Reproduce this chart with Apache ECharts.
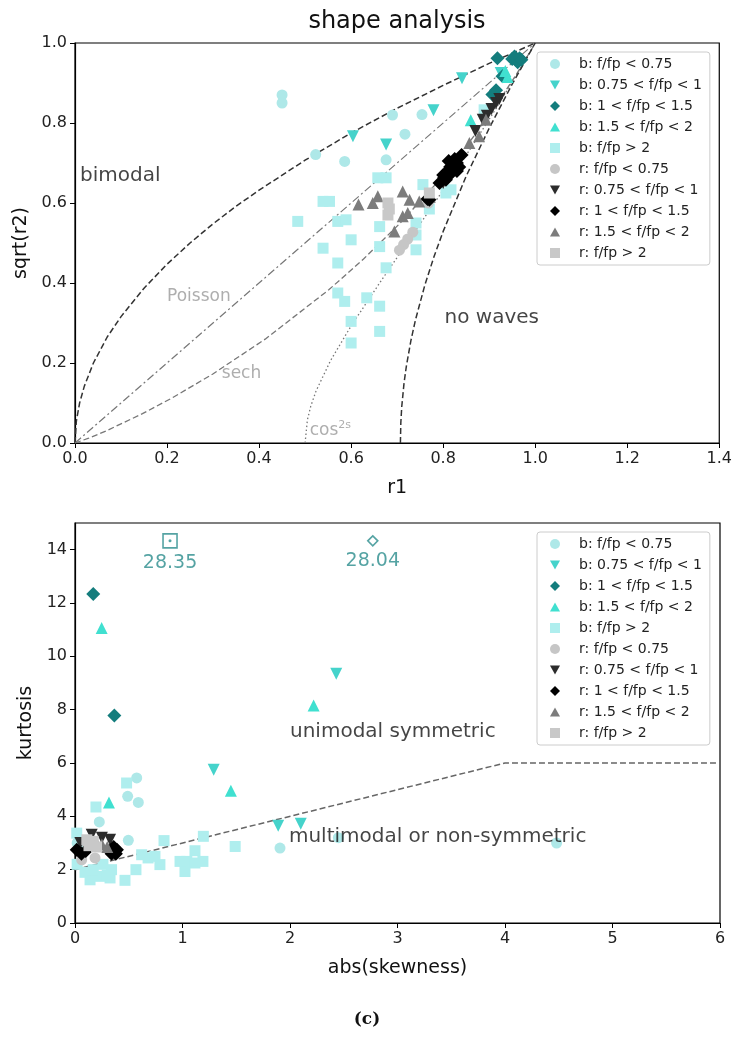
<!DOCTYPE html>
<html>
<head>
<meta charset="utf-8">
<script src="https://cdn.jsdelivr.net/npm/echarts@6/dist/echarts.min.js"></script>
<style>
  html, body { margin: 0; padding: 0; background: #fff; }
  #chart { width: 735px; height: 1048px; }
</style>
</head>
<body>
<div id="chart"></div>
<script>
// ---------- legend / class names ----------
const CLASS_NAMES = [
  'b: f/fp < 0.75', 'b: 0.75 < f/fp < 1', 'b: 1 < f/fp < 1.5', 'b: 1.5 < f/fp < 2', 'b: f/fp > 2',
  'r: f/fp < 0.75', 'r: 0.75 < f/fp < 1', 'r: 1 < f/fp < 1.5', 'r: 1.5 < f/fp < 2', 'r: f/fp > 2'
];

// ---------- axis ticks ----------
const R1_TICKS = [0, 0.2, 0.4, 0.6, 0.8, 1.0, 1.2, 1.4];
const SQRT_R2_TICKS = [0, 0.2, 0.4, 0.6, 0.8, 1.0];
const SKEW_TICKS = [0, 1, 2, 3, 4, 5, 6];
const KURT_TICKS = [0, 2, 4, 6, 8, 10, 12, 14];

// ---------- shape analysis: [r1, sqrt(r2)] ----------
const B_LT075_R = [[0.45,0.87],[0.45,0.85],[0.69,0.82],[0.754,0.821],[0.717,0.772],[0.523,0.721],[0.586,0.704],[0.676,0.708]];
const B_075_1_R = [[0.841,0.912],[0.779,0.832],[0.604,0.767],[0.676,0.746],[0.925,0.925]];
const B_1_15_R = [[0.918,0.962],[0.95,0.96],[0.958,0.958],[0.966,0.962],[0.962,0.952],[0.955,0.966],[0.97,0.958],[0.929,0.917],[0.907,0.871],[0.915,0.882]];
const B_15_2_R = [[0.86,0.807],[0.935,0.93],[0.94,0.915]];
const B_GT2_R = [[0.889,0.833],[0.658,0.663],[0.676,0.663],[0.756,0.646],[0.539,0.604],[0.553,0.604],[0.484,0.554],[0.571,0.554],[0.589,0.558],
  [0.662,0.541],[0.600,0.508],[0.539,0.487],[0.571,0.45],[0.662,0.491],[0.676,0.438],[0.571,0.375],[0.586,0.354],[0.634,0.363],
  [0.662,0.342],[0.600,0.304],[0.662,0.279],[0.600,0.25],[0.741,0.55],[0.741,0.52],[0.741,0.483],[0.806,0.625],[0.817,0.633],[0.77,0.585]];
const R_LT075_R = [[0.734,0.527],[0.723,0.51],[0.714,0.496],[0.705,0.482],[0.768,0.6]];
const R_075_1_R = [[0.886,0.808],[0.895,0.818],[0.905,0.835],[0.915,0.85],[0.922,0.86],[0.87,0.78],[0.80,0.65]];
const R_1_15_R = [[0.81,0.68],[0.82,0.69],[0.83,0.70],[0.825,0.71],[0.815,0.69],[0.83,0.68],[0.84,0.72],[0.80,0.67],[0.821,0.696],
  [0.812,0.705],[0.835,0.69],[0.818,0.675],[0.792,0.65],[0.77,0.608],[0.766,0.61],[0.806,0.658]];
const R_15_2_R = [[0.616,0.596],[0.647,0.60],[0.658,0.617],[0.712,0.629],[0.727,0.608],[0.748,0.604],[0.694,0.529],[0.712,0.567],
  [0.723,0.575],[0.857,0.75],[0.878,0.767],[0.893,0.808]];
const R_GT2_R = [[0.68,0.60],[0.683,0.585],[0.68,0.57],[0.77,0.625]];

// theoretical curves in the (r1, sqrt(r2)) plane
const BIMODAL_CURVE = [[0,0],[0.003,0.055],[0.01,0.1],[0.02,0.141],[0.04,0.2],[0.07,0.265],[0.1,0.316],[0.15,0.387],[0.2,0.447],
  [0.25,0.5],[0.3,0.548],[0.35,0.592],[0.4,0.632],[0.5,0.707],[0.6,0.775],[0.7,0.837],[0.8,0.894],[0.9,0.949],[1,1]];
const POISSON_CURVE = [[0,0],[1,1]];
const SECH_CURVE = [[0,0],[0.0298,0.0121],[0.0674,0.0301],[0.1466,0.0733],[0.2116,0.113],[0.2995,0.1725],[0.4132,0.2596],
  [0.5514,0.3829],[0.627,0.46],[0.7045,0.5473],[0.7803,0.6428],[0.851,0.7426],[0.9121,0.8393],[0.9595,0.9224],[0.9897,0.9795],[1,1]];
const COS2S_CURVE = [[0.5,0],[0.505,0.058],[0.5122,0.0916],[0.5238,0.130],[0.5556,0.2067],[0.6,0.2928],[0.6667,0.4082],[0.75,0.5477],
  [0.8,0.6325],[0.857,0.7319],[0.9091,0.8257],[0.9524,0.9069],[0.9804,0.9612],[1,1]];
const NOWAVE_CURVE = [[0.7071,0],[0.708,0.0503],[0.71,0.0906],[0.715,0.1498],[0.72,0.1918],[0.73,0.2565],[0.74,0.3085],[0.76,0.394],
  [0.78,0.4656],[0.8,0.529],[0.85,0.667],[0.9,0.787],[0.95,0.897],[1,1]];

// ---------- kurtosis vs abs(skewness) ----------
const B_LT075_K = [[0.574,5.44],[0.49,4.75],[0.589,4.52],[0.226,3.79],[0.496,3.10],[1.907,2.81],[4.48,3.0],[2.45,3.2],[0.02,3.0],[0.1,2.9]];
const B_075_1_K = [[2.43,9.35],[1.29,5.75],[1.89,3.65],[2.10,3.72]];
const B_1_15_K = [[0.17,12.34],[0.366,7.78]];
const B_15_2_K = [[0.248,11.06],[2.22,8.16],[1.45,4.96],[0.316,4.52]];
const B_GT2_K = [[0.48,5.25],[0.195,4.35],[0.828,3.09],[1.194,3.25],[1.116,2.71],[1.49,2.87],[0.977,2.31],[1.04,2.31],[1.023,1.93],
  [1.116,2.25],[1.19,2.31],[0.68,2.44],[0.744,2.5],[0.79,2.19],[0.567,2.0],[0.465,1.6],[0.62,2.56],[0.326,1.69],[0.233,1.75],
  [0.14,1.62],[0.34,2.0],[0.093,1.9],[0.17,2.0],[0.016,3.37],[0.02,2.2],[0.26,2.2],[0.3,1.8]];
const R_LT075_K = [[0.062,2.37],[0.186,2.44],[0.12,2.9]];
const R_075_1_K = [[0.155,3.31],[0.326,3.12],[0.25,3.2],[0.05,3.0]];
const R_1_15_K = [[0.016,2.75],[0.06,2.6],[0.1,2.7],[0.35,2.75],[0.38,2.6],[0.36,2.85],[0.39,2.75],[0.34,2.6]];
const R_15_2_K = [[0.25,2.94],[0.2,3.0],[0.3,2.85]];
const R_GT2_K = [[0.11,3.12],[0.17,3.06],[0.13,2.9],[0.2,2.85]];

// points beyond the kurtosis axis: drawn at the clip level, labelled with their value
const OVERFLOW_SKEW = [0.884, 2.77];
const OVERFLOW_KURT = [28.35, 28.04];
const OVERFLOW_SYMBOL = ['rect', 'diamond'];
const KURT_CLIP = 14.33;

const BOUNDARY_LINE = [[0,2],[4,6],[6,6]];

// ---------- text annotations (data coordinates) ----------
const TOP_NOTES = [
  { text: 'bimodal', at: [0.011, 0.668], kind: 'region' },
  { text: 'no waves', at: [0.803, 0.313], kind: 'region' },
  { text: 'Poisson', at: [0.2, 0.366], kind: 'model' },
  { text: 'sech', at: [0.319, 0.173], kind: 'model' },
  { text: '{a|cos}{b|2s}', at: [0.51, 0.03], kind: 'model' }
];
const BOTTOM_NOTES = [
  { text: 'unimodal symmetric', at: [2.0, 7.18], kind: 'region' },
  { text: 'multimodal or non-symmetric', at: [1.99, 3.24], kind: 'region' }
];

// ---------- styling ----------
const FONT = 'DejaVu Sans';
const DOWN_TRI = 'path://M0,0 L10,0 L5,9 Z';
const UP_TRI = 'path://M5,0 L10,9 L0,9 Z';
const MARKERS = [
  { symbol: 'circle', size: 11, color: '#aee8e8' },
  { symbol: DOWN_TRI, size: 12, color: '#45d3cb' },
  { symbol: 'diamond', size: 14, color: '#147d7d' },
  { symbol: UP_TRI, size: 12, color: '#40e0d0' },
  { symbol: 'rect', size: 11, color: '#afeeee' },
  { symbol: 'circle', size: 11, color: '#c6c6c6' },
  { symbol: DOWN_TRI, size: 12, color: '#2c2c2c' },
  { symbol: 'diamond', size: 14, color: '#000000' },
  { symbol: UP_TRI, size: 12, color: '#7c7c7c' },
  { symbol: 'rect', size: 11, color: '#c8c8c8' }
];
const TEAL_TEXT = '#2a8c8c';

const TOP_DATA = [B_LT075_R, B_075_1_R, B_1_15_R, B_15_2_R, B_GT2_R, R_LT075_R, R_075_1_R, R_1_15_R, R_15_2_R, R_GT2_R];
const BOT_DATA = [B_LT075_K, B_075_1_K, B_1_15_K, B_15_2_K, B_GT2_K, R_LT075_K, R_075_1_K, R_1_15_K, R_15_2_K, R_GT2_K];

function pointSeries(idx, data, axis) {
  const m = MARKERS[idx];
  return {
    type: 'scatter', name: CLASS_NAMES[idx], xAxisIndex: axis, yAxisIndex: axis,
    data: data, symbol: m.symbol, symbolSize: m.size,
    itemStyle: { color: m.color, opacity: 1 }, z: 5 + idx * 0.01,
    emphasis: { disabled: true }
  };
}

function curveSeries(data, axis, color, dash, width) {
  return {
    type: 'line', xAxisIndex: axis, yAxisIndex: axis, data: data,
    showSymbol: false, symbol: 'none', smooth: false, silent: true, z: 3,
    lineStyle: { color: color, type: dash, width: width }
  };
}

function noteSeries(notes, axis) {
  return {
    type: 'scatter', xAxisIndex: axis, yAxisIndex: axis, symbolSize: 0, silent: true, z: 8,
    data: notes.map(n => ({
      value: n.at,
      label: {
        show: true, position: 'right', distance: 0,
        formatter: n.text,
        fontFamily: FONT,
        fontSize: n.kind === 'region' ? 20 : 17,
        color: n.kind === 'region' ? '#151515' : '#9a9a9a',
        rich: {
          a: { fontFamily: FONT, fontSize: 17, color: '#9a9a9a' },
          b: { fontFamily: FONT, fontSize: 11, color: '#9a9a9a', verticalAlign: 'top', padding: [0, 0, 12, 0] }
        }
      }
    }))
  };
}

function valueAxis(gridIndex, min, max, ticks, fmt, name, nameGap) {
  return {
    type: 'value', gridIndex: gridIndex, min: min, max: max,
    name: name, nameLocation: 'middle', nameGap: nameGap,
    nameTextStyle: { fontFamily: FONT, fontSize: 19, color: '#111' },
    axisLine: { show: true, onZero: false, lineStyle: { color: '#000', width: 1.2 } },
    axisTick: { show: true, inside: false, length: 5, lineStyle: { color: '#000', width: 1 }, customValues: ticks },
    axisLabel: { fontFamily: FONT, fontSize: 16, color: '#222', margin: 8, customValues: ticks, formatter: fmt },
    splitLine: { show: false }
  };
}

const legendCommon = {
  orient: 'vertical', left: 537, itemWidth: 10, itemHeight: 10, itemGap: 7,
  padding: [5, 8, 5, 13],
  borderColor: '#cccccc', borderWidth: 1, borderRadius: 3, backgroundColor: 'rgba(255,255,255,0.85)',
  textStyle: { fontFamily: FONT, fontSize: 14, color: '#222', padding: [0, 0, 0, 14] },
  data: CLASS_NAMES, selectedMode: false
};

const series = [];
// model curves (top) and class boundary (bottom)
series.push(curveSeries(BIMODAL_CURVE, 0, '#333', [6, 3], 1.5));
series.push(curveSeries(POISSON_CURVE, 0, '#777', [8, 3, 2, 3], 1.2));
series.push(curveSeries(SECH_CURVE, 0, '#777', [6, 3], 1.3));
series.push(curveSeries(COS2S_CURVE, 0, '#777', [1.5, 2.5], 1.3));
series.push(curveSeries(NOWAVE_CURVE, 0, '#333', [6, 3], 1.5));
series.push(curveSeries(BOUNDARY_LINE, 1, '#666', [6, 3], 1.5));

TOP_DATA.forEach((d, i) => series.push(pointSeries(i, d, 0)));
BOT_DATA.forEach((d, i) => series.push(pointSeries(i, d, 1)));

// clipped kurtosis points: hollow marker with the true value beneath
series.push({
  type: 'scatter', xAxisIndex: 1, yAxisIndex: 1, silent: true, z: 9,
  data: OVERFLOW_SKEW.map((s, i) => ({
    value: [s, Math.min(OVERFLOW_KURT[i], KURT_CLIP)],
    symbol: OVERFLOW_SYMBOL[i],
    symbolSize: OVERFLOW_SYMBOL[i] === 'rect' ? 14 : 10,
    label: {
      show: true, position: 'bottom', distance: 5,
      formatter: OVERFLOW_KURT[i].toFixed(2),
      fontFamily: FONT, fontSize: 19, color: TEAL_TEXT
    }
  })),
  itemStyle: { color: '#fff', borderColor: TEAL_TEXT, borderWidth: 1.6 }
});
series.push({
  type: 'scatter', xAxisIndex: 1, yAxisIndex: 1, silent: true, z: 10,
  data: OVERFLOW_SKEW.filter((s, i) => OVERFLOW_SYMBOL[i] === 'rect')
    .map(s => [s, KURT_CLIP]),
  symbol: 'circle', symbolSize: 3, itemStyle: { color: TEAL_TEXT }
});

series.push(noteSeries(TOP_NOTES, 0));
series.push(noteSeries(BOTTOM_NOTES, 1));

const option = {
  animation: false,
  backgroundColor: '#fff',
  grid: [
    { left: 75, top: 43, width: 645, height: 400, show: true, borderColor: '#000', borderWidth: 1.2, backgroundColor: 'transparent' },
    { left: 75, top: 523, width: 645, height: 400, show: true, borderColor: '#000', borderWidth: 1.2, backgroundColor: 'transparent' }
  ],
  xAxis: [
    valueAxis(0, 0, 1.4, R1_TICKS, v => v.toFixed(1), 'r1', 36),
    valueAxis(1, 0, 6, SKEW_TICKS, v => String(Math.round(v)), 'abs(skewness)', 36)
  ],
  yAxis: [
    valueAxis(0, 0, 1.0, SQRT_R2_TICKS, v => v.toFixed(1), 'sqrt(r2)', 31),
    valueAxis(1, 0, 15, KURT_TICKS, v => String(Math.round(v)), 'kurtosis', 31)
  ],
  legend: [
    Object.assign({}, legendCommon, { top: 52 }),
    Object.assign({}, legendCommon, { top: 532 })
  ],
  graphic: [
    { type: 'text', x: 397, y: 22, silent: true,
      style: { text: 'shape analysis', fontFamily: FONT, fontSize: 24, fill: '#111', align: 'center', verticalAlign: 'middle' } },
    { type: 'text', x: 367, y: 1020, silent: true,
      style: { text: '(c)', fontFamily: 'DejaVu Serif', fontWeight: 'bold', fontSize: 17, fill: '#111', align: 'center', verticalAlign: 'middle' } }
  ],
  series: series
};

const chart = echarts.init(document.getElementById('chart'), null, { renderer: 'canvas' });
chart.setOption(option);
</script>
</body>
</html>
